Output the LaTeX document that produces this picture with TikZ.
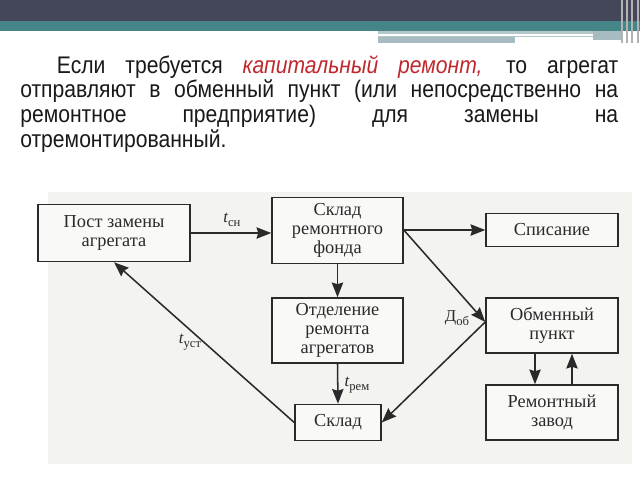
\documentclass[tikz,border=0pt]{standalone}
\usepackage{fontspec}
\setmainfont{Liberation Serif}
\newfontfamily\slidefont[FakeStretch=0.88]{Liberation Sans}
\newfontfamily\bookfont{Liberation Serif}
\usetikzlibrary{arrows.meta}
\definecolor{hdrdark}{HTML}{444659}
\definecolor{hdrteal}{HTML}{468587}
\definecolor{hdrlight}{HTML}{B3C8CB}
\definecolor{hdrmid}{HTML}{A7BCC0}
\definecolor{redtxt}{HTML}{C0282D}
\definecolor{ink}{HTML}{2A2A2A}
\definecolor{paper}{HTML}{F3F3F0}
\newcommand\lbsub[2]{#1\raisebox{-0.5ex}{\upshape\fontsize{9.5}{9.5}\selectfont #2}}
\tikzset{
  blk/.style={draw=ink, line width=1.15pt, fill=white!50!paper, inner sep=1pt,
    align=center, font=\bookfont\fontsize{13.75}{14.5}\selectfont, text=ink},
  arr/.style={draw=ink, line width=1.15pt, -{Stealth[length=11pt,width=8.5pt,inset=1.2pt]}},
  lbl/.style={font=\bookfont\fontsize{12.5}{12.5}\selectfont, text=ink, inner sep=0pt}
}
\begin{document}
\begin{tikzpicture}[x=0.75pt,y=-0.75pt]
\useasboundingbox (0,0) rectangle (640,480);
\fill[white] (0,0) rectangle (640,480);
% header
\fill[hdrdark] (0,0) rectangle (640,21);
\fill[hdrteal] (0,21) rectangle (640,31);
\fill[hdrlight] (378,31) rectangle (623,37);
\fill[hdrmid] (378,37) rectangle (515,43);
\fill[hdrmid] (593,31) rectangle (623,40);
\fill[white] (378,34) rectangle (593,36);
\foreach \xx in {622,627,632,638}{\draw[gray!60, line width=0.8pt] (\xx,0) -- (\xx,43);}
% paragraph
\node[anchor=north west, text width=448.5pt, align=justify, inner sep=0pt,
  font=\slidefont\fontsize{18}{18.6}\selectfont, text=black!90] (para) at (20,55)
  {\hyphenpenalty=10000\hspace*{27.5pt}Если требуется {\color{redtxt}\itshape капитальный ремонт,} то агрегат\linebreak
  отправляют в обменный пункт (или непосредственно на\linebreak
  ремонтное предприятие) для замены на\linebreak
  отремонтированный.};
% diagram background
\fill[paper] (48,192) rectangle (632,464);
% blocks
\node[blk, minimum width=114pt, minimum height=42.75pt] (post) at (114,233) {Пост замены\\агрегата};
\node[blk, minimum width=98.25pt, minimum height=49.5pt] (fund) at (337.5,230.5) {Склад\\ремонтного\\фонда};
\node[blk, minimum width=99pt, minimum height=24.75pt] (spis) at (552,230) {Списание};
\node[blk, minimum width=99pt, minimum height=41.25pt] (obm) at (552,325.5) {Обменный\\пункт};
\node[blk, minimum width=99pt, minimum height=41.25pt] (zavod) at (552,412.5) {Ремонтный\\завод};
\node[blk, minimum width=98.25pt, minimum height=48.75pt] (otd) at (337.5,330.5) {Отделение\\ремонта\\агрегатов};
\node[blk, minimum width=64.5pt, minimum height=27pt] (sklad) at (338,422.5) {Склад};
\coordinate (meet) at (obm.west |- 0,322);
% connectors
\draw[arr] (post.east) -- (fund.west |- post.east);
\draw[arr] (fund.east |- spis.west) -- (spis.west);
\draw[arr] (fund.east |- spis.west) -- (meet);
\draw[arr] (meet) -- (sklad.east);
\draw[arr] (fund.south) -- (otd.north);
\draw[arr] (otd.south) -- (sklad.north);
\draw[arr] (sklad.west) -- (post.south);
\draw[arr] (obm.south -| 535,0) -- (zavod.north -| 535,0);
\draw[arr] (zavod.north -| 572,0) -- (obm.south -| 572,0);
% labels
\node[lbl] (tsn) at (232,220) {\lbsub{\itshape t}{сн}};
\node[lbl] (dob) at (457,318) {\lbsub{Д}{об}};
\node[lbl] (tust) at (190,342) {\lbsub{\itshape t}{уст}};
\node[lbl] (trem) at (357,385) {\lbsub{\itshape t}{рем}};
\end{tikzpicture}
\end{document}
